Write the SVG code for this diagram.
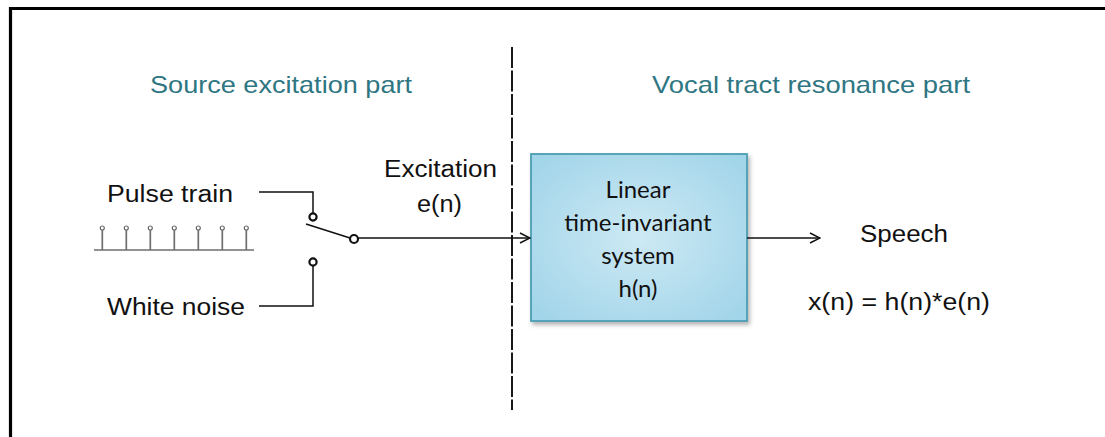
<svg xmlns="http://www.w3.org/2000/svg" width="1105" height="437" viewBox="0 0 1105 437">
<defs>
<style>
.title{font-family:"Liberation Sans",Arial,sans-serif;font-size:24px;fill:#2f7683}
.lbl{font-family:"Liberation Sans",Arial,sans-serif;font-size:23px;fill:#111}
.box{font-family:Lato,"Open Sans",sans-serif;font-size:24px;fill:#111;text-anchor:middle}
.wire{fill:none;stroke:#111;stroke-width:1.5}
.pin{fill:#fff;stroke:#111;stroke-width:2.2}
.stem{stroke:#6e6e6e;stroke-width:1.7;fill:none}
.bead{fill:#fff;stroke:#6e6e6e;stroke-width:1.2}
</style>
<radialGradient id="g" cx="50%" cy="50%" r="65%">
<stop offset="0" stop-color="#cde9f4"/>
<stop offset="1" stop-color="#a2d5e9"/>
</radialGradient>
<filter id="sh" x="-10%" y="-10%" width="125%" height="125%">
<feDropShadow dx="2" dy="3" stdDeviation="2" flood-color="#000" flood-opacity="0.3"/>
</filter>
<marker id="arr" viewBox="0 0 12 12" refX="11" refY="6" markerWidth="12" markerHeight="12" markerUnits="userSpaceOnUse" orient="auto">
<path d="M1,1 L11,6 L1,11" fill="none" stroke="#111" stroke-width="1.4"/>
</marker>
</defs>
<rect width="1105" height="437" fill="#fff"/>
<path d="M10.5,437 V8.5 H1105" fill="none" stroke="#000" stroke-width="3.2"/>
<line x1="512" y1="47" x2="512" y2="410" stroke="#000" stroke-width="1.8" stroke-dasharray="21,2.5"/>
<text class="title" x="150" y="93" textLength="262" lengthAdjust="spacingAndGlyphs">Source excitation part</text>
<text class="title" x="652" y="93" textLength="318" lengthAdjust="spacingAndGlyphs">Vocal tract resonance part</text>
<g id="pulse-train">
<text class="lbl" x="107" y="202" textLength="126" lengthAdjust="spacingAndGlyphs">Pulse train</text>
<line class="stem" x1="94" y1="250" x2="254" y2="250"/>
<path class="stem" d="M102.3,250V229.5M126.3,250V229.5M150.3,250V229.5M174.3,250V229.5M198.3,250V229.5M222.3,250V229.5M246.3,250V229.5"/>
<g class="bead"><circle cx="102.3" cy="228" r="2"/><circle cx="126.3" cy="228" r="2"/><circle cx="150.3" cy="228" r="2"/><circle cx="174.3" cy="228" r="2"/><circle cx="198.3" cy="228" r="2"/><circle cx="222.3" cy="228" r="2"/><circle cx="246.3" cy="228" r="2"/></g>
</g>
<g id="white-noise">
<text class="lbl" x="107" y="315" textLength="138" lengthAdjust="spacingAndGlyphs">White noise</text>
</g>
<g id="switch">
<line class="wire" x1="306" y1="224" x2="350" y2="238"/>
<circle class="pin" cx="313" cy="217" r="3.6"/>
<circle class="pin" cx="313" cy="262" r="3.6"/>
<circle class="pin" cx="354" cy="239" r="4"/>
</g>
<g id="excitation">
<text class="lbl" x="384" y="177" textLength="113" lengthAdjust="spacingAndGlyphs">Excitation</text>
<text class="lbl" x="417" y="212" textLength="45" lengthAdjust="spacingAndGlyphs">e(n)</text>
</g>
<g id="lti">
<rect x="531" y="154" width="216" height="167" fill="url(#g)" stroke="#4b9db2" stroke-width="1.8" filter="url(#sh)"/>
<text class="box" x="638" y="198">Linear</text>
<text class="box" x="638" y="231">time-invariant</text>
<text class="box" x="638" y="264">system</text>
<text class="box" x="638" y="297">h(n)</text>
</g>
<g id="speech">
<text class="lbl" x="860" y="242" textLength="88" lengthAdjust="spacingAndGlyphs">Speech</text>
<text class="lbl" x="808" y="310" textLength="182" lengthAdjust="spacingAndGlyphs">x(n) = h(n)*e(n)</text>
</g>
<g id="connectors">
<path class="wire" d="M259,192 H313 V213.4"/>
<path class="wire" d="M259,306 H313 V265.6"/>
<line class="wire" x1="358" y1="238" x2="530" y2="238" marker-end="url(#arr)"/>
<line class="wire" x1="747" y1="238" x2="820" y2="238" marker-end="url(#arr)"/>
</g>
</svg>
